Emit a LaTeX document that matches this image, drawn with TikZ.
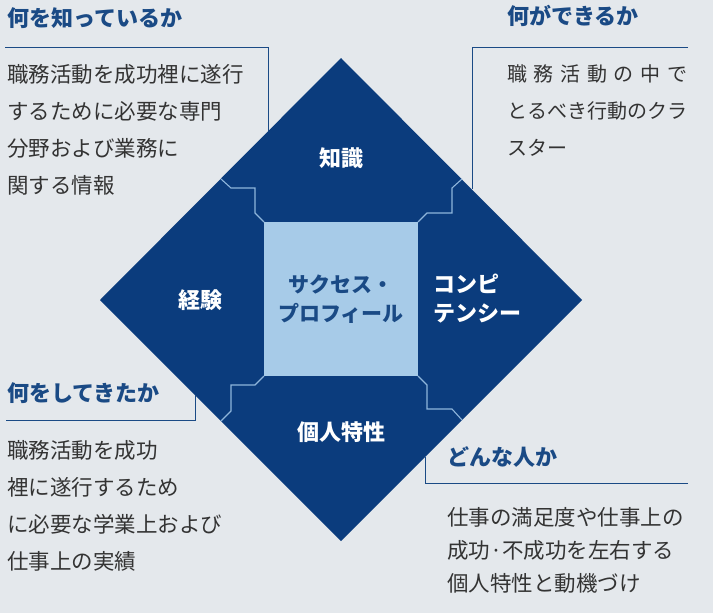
\documentclass[tikz,border=0pt]{standalone}
\usepackage{fontspec}
\setmainfont{Noto Sans CJK JP}
\begin{document}
\begin{tikzpicture}[x=1pt,y=-1pt,
  hd/.style={anchor=west,font=\fontsize{22}{24}\selectfont\bfseries,text=hblue,inner sep=0},
  bd/.style={anchor=west,font=\fontsize{21.5}{37}\selectfont,text=tgray,inner sep=0,align=left},
  lbl/.style={font=\fontsize{22}{29}\selectfont\bfseries,text=white,inner sep=0,align=left},
  sep/.style={draw=sepblue,line width=1.1pt},
  call/.style={draw=hblue,line width=0.9pt}]
\definecolor{bg}{HTML}{E4E8EC}
\definecolor{dblue}{HTML}{0B3C7D}
\definecolor{lblue}{HTML}{A7CBE8}
\definecolor{sepblue}{HTML}{8FB6DC}
\definecolor{hblue}{HTML}{1A4A85}
\definecolor{tgray}{HTML}{333333}
\fill[bg] (0,0) rectangle (713,613);
\useasboundingbox (0,0) rectangle (713,613);
% diamond
\fill[dblue] (341,58) -- (582,300) -- (341,541) -- (100,300) -- cycle;
\fill[lblue] (264,222) rectangle (418,376);
% separators
\draw[sep] (264,222) -- (255,213) -- (255,188) -- (231,188) -- (221,179);
\draw[sep] (418,222) -- (427,213) -- (452,213) -- (452,188) -- (462,179);
\draw[sep] (264,376) -- (255,385) -- (231,385) -- (231,411) -- (221,421);
\draw[sep] (418,376) -- (427,385) -- (427,409) -- (452,409) -- (462,420);
% callout lines
\draw[call] (5,47) -- (268,47) -- (268,131);
\draw[call] (688,47) -- (472,47) -- (472,189);
\draw[call] (6,420) -- (195,420) -- (195,395);
\draw[call] (688,483) -- (425,483) -- (425,457);
% diamond labels
\node[lbl] (k) at (341,158) {知識};
\node[lbl] (e) at (200,300) {経験};
\node[lbl,anchor=west] (c) at (433,299) {コンピ\\テンシー};
\node[lbl] (p) at (341,432) {個人特性};
\node[lbl,text=hblue,align=center,font=\fontsize{21}{29}\selectfont\bfseries] (s) at (341,299) {サクセス・\\プロフィール};
% headers
\node[hd] (h1) at (7,18) {何を知っているか};
\node[hd] (h2) at (507,16) {何ができるか};
\node[hd] (h3) at (7,393) {何をしてきたか};
\node[hd] (h4) at (447,457) {どんな人か};
% bodies
\node[bd] (b1) at (7,130) {職務活動を成功裡に遂行\\するために必要な専門\\分野および業務に\\関する情報};
\node[bd,font=\fontsize{20}{37}\selectfont] (b2) at (507,111) {職\,\,務\,\,活\,\,動\,\,の\,\,中\,\,で\\とるべき行動のクラ\\スター};
\node[bd] (b3) at (7,506) {職務活動を成功\\裡に遂行するため\\に必要な学業上および\\仕事上の実績};
\node[bd,font=\fontsize{21.5}{33}\selectfont] (b4) at (447,550) {仕事の満足度や仕事上の\\成功·不成功を左右する\\個人特性と動機づけ};
\end{tikzpicture}
\end{document}
